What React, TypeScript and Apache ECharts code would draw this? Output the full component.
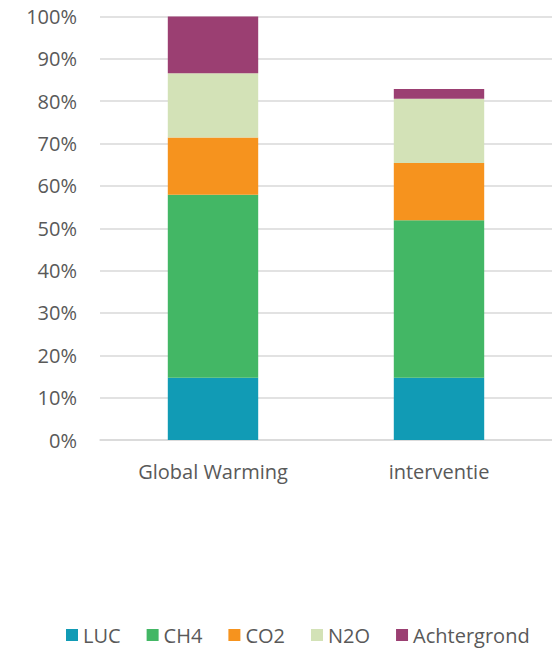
import React, { useEffect, useRef } from "react";
import * as echarts from "echarts";

const categories = ["Global Warming", "interventie"];
const seriesNames = ["LUC", "CH4", "CO2", "N2O", "Achtergrond"];
const luc = [14.7, 14.7];
const ch4 = [43.2, 37.2];
const co2 = [13.5, 13.5];
const n2o = [15.2, 15.2];
const achtergrond = [13.4, 2.3];
const colors = ["#119BB5", "#43B765", "#F6931E", "#D3E2B7", "#9B3F72"];

const FONT = "'Open Sans', sans-serif";
const TEXT = "#595959";

export default function App() {
  const ref = useRef<HTMLDivElement>(null);

  useEffect(() => {
    if (!ref.current) return;
    const chart = echarts.init(ref.current, undefined, { renderer: "svg" });
    const values = [luc, ch4, co2, n2o, achtergrond];
    chart.setOption({
      animation: false,
      backgroundColor: "#ffffff",
      textStyle: { fontFamily: FONT },
      grid: { left: 100, right: 0, top: 16.5, bottom: 212 },
      legend: {
        left: 66,
        top: 625,
        padding: 0,
        itemWidth: 12,
        itemHeight: 12,
        itemGap: 26,
        icon: "rect",
        textStyle: { color: TEXT, fontSize: 20, fontFamily: FONT },
        data: seriesNames,
      },
      xAxis: {
        type: "category",
        data: categories,
        axisLine: { show: true, lineStyle: { color: "#d9d9d9", width: 1.5 } },
        axisTick: { show: false },
        axisLabel: { color: TEXT, fontSize: 20, fontFamily: FONT, margin: 21 },
      },
      yAxis: {
        type: "value",
        min: 0,
        max: 100,
        interval: 10,
        axisLine: { show: false },
        axisTick: { show: false },
        splitLine: { lineStyle: { color: "#d9d9d9", width: 1.5 } },
        axisLabel: {
          color: TEXT,
          fontSize: 20,
          fontFamily: FONT,
          margin: 23,
          formatter: (v: number) => `${v}%`,
        },
      },
      series: seriesNames.map((name, i) => ({
        name,
        type: "bar",
        stack: "total",
        barWidth: "40%",
        data: values[i],
        itemStyle: { color: colors[i] },
      })),
    });
    return () => chart.dispose();
  }, []);

  return (
    <div
      ref={ref}
      style={{ position: "fixed", left: 0, top: 0, width: 552, height: 652 }}
    />
  );
}
